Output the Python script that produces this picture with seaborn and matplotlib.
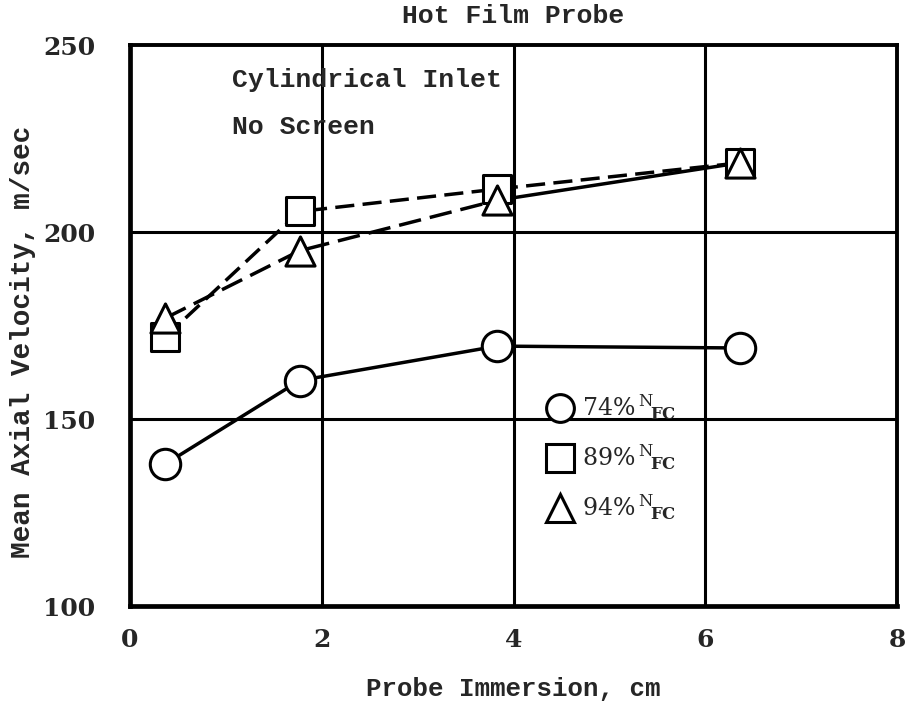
import matplotlib
matplotlib.use("Agg")
import matplotlib.pyplot as plt
import pandas as pd
import seaborn as sns

# Hot film probe survey: mean axial velocity versus probe immersion
immersion_cm = [0.37, 1.77, 3.83, 6.36]
vel_74 = [138.0, 160.3, 169.5, 169.0]
vel_89 = [172.0, 205.5, 211.5, 218.5]
vel_94 = [177.0, 195.0, 208.5, 218.5]
speed_labels = ["74%", "89%", "94%"]
x_ticks = [0, 2, 4, 6, 8]
y_ticks = [100, 150, 200, 250]

rows = []
for lab, vals in zip(speed_labels, [vel_74, vel_89, vel_94]):
    for i, (x, v) in enumerate(zip(immersion_cm, vals)):
        rows.append({"immersion": x, "velocity": v, "speed": lab, "idx": i})
df = pd.DataFrame(rows)

sns.set_theme(style="white")
plt.rcParams["mathtext.fontset"] = "dejavuserif"
mono = "Liberation Mono"
serif = "DejaVu Serif"

fig = plt.figure(figsize=(9.09, 7.06), dpi=100)
ax = fig.add_axes([0.143, 0.1416, 0.844, 0.7946])

lw = 2.5
# connecting lines: 74% solid, 89% dashed, 94% dashed then solid on last leg
d74 = df[df.speed == "74%"]
d89 = df[df.speed == "89%"]
d94a = df[(df.speed == "94%") & (df.idx <= 2)]
d94b = df[(df.speed == "94%") & (df.idx >= 2)]
sns.lineplot(data=d74, x="immersion", y="velocity", ax=ax, color="black",
             lw=lw, sort=False, zorder=2)
sns.lineplot(data=d89, x="immersion", y="velocity", ax=ax, color="black",
             lw=lw, sort=False, zorder=2, linestyle=(0, (5.5, 2.4)))
sns.lineplot(data=d94a, x="immersion", y="velocity", ax=ax, color="black",
             lw=lw, sort=False, zorder=2, linestyle=(0, (6.5, 2.6)))
sns.lineplot(data=d94b, x="immersion", y="velocity", ax=ax, color="black",
             lw=lw, sort=False, zorder=2)

marker_map = {"74%": "o", "89%": "s", "94%": "^"}
size_map = {"74%": 480, "89%": 400, "94%": 440}
for lab in speed_labels:
    sub = df[df.speed == lab]
    sns.scatterplot(data=sub, x="immersion", y="velocity", ax=ax,
                    marker=marker_map[lab], s=size_map[lab], facecolor="white",
                    edgecolor="black", linewidth=2.2, zorder=4 if lab != "94%" else 5)

ax.set_xlim(0, 8)
ax.set_ylim(100, 250)
ax.set_xticks(x_ticks)
ax.set_yticks(y_ticks)
ax.set_xticklabels([str(t) for t in x_ticks], fontfamily=serif, fontweight="bold", fontsize=18)
ax.set_yticklabels([str(t) for t in y_ticks], fontfamily=serif, fontweight="bold", fontsize=18)
ax.tick_params(axis="x", length=0, pad=16)
ax.tick_params(axis="y", length=0, pad=25)

for x in [2, 4, 6]:
    ax.axvline(x, color="black", lw=2.2, zorder=1)
for y in [150, 200]:
    ax.axhline(y, color="black", lw=2.2, zorder=1)

for side, w in [("left", 3.4), ("bottom", 3.4), ("top", 2.8), ("right", 2.8)]:
    ax.spines[side].set_visible(True)
    ax.spines[side].set_color("black")
    ax.spines[side].set_linewidth(w)

ax.set_xlabel("Probe Immersion, cm", fontfamily=mono, fontweight="bold",
              fontsize=18.5, labelpad=18)
ax.set_ylabel("Mean Axial Velocity, m/sec", fontfamily=mono, fontweight="bold",
              fontsize=20)
ax.yaxis.set_label_coords(-0.122, 0.47)
ax.set_title("Hot Film Probe", fontfamily=mono, fontweight="bold", fontsize=19, pad=16)

ax.text(0.133, 0.9376, "Cylindrical Inlet", transform=ax.transAxes, fontfamily=mono,
        fontweight="bold", fontsize=19, va="center", ha="left")
ax.text(0.133, 0.854, "No Screen", transform=ax.transAxes, fontfamily=mono,
        fontweight="bold", fontsize=19, va="center", ha="left")

handles = [plt.Line2D([], [], ls="none", marker=marker_map[l], markersize=20,
                      markerfacecolor="white", markeredgecolor="black",
                      markeredgewidth=2.2) for l in speed_labels]
labels = [f"{l}" + r"$\,^{\mathrm{N}}\!_{\mathbf{FC}}$" for l in speed_labels]
leg = ax.legend(handles, labels, loc="upper left", bbox_to_anchor=(0.545, 0.38),
                frameon=False, borderpad=0, borderaxespad=0, handlelength=1.0,
                handletextpad=0.45, labelspacing=0.85,
                prop={"family": serif, "size": 17})

fig.savefig("out.png", dpi=100, facecolor="white")
